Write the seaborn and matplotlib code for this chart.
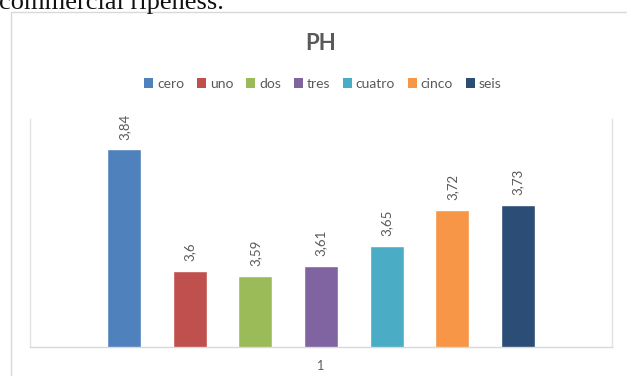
import matplotlib
matplotlib.use("Agg")
import matplotlib.pyplot as plt
from matplotlib.patches import Rectangle, Patch
import seaborn as sns
import pandas as pd

# Series and values
series = ["cero", "uno", "dos", "tres", "cuatro", "cinco", "seis"]
ph_values = [3.84, 3.60, 3.59, 3.61, 3.65, 3.72, 3.73]
category = ["1"] * len(series)
colors = ["#4F81BD", "#C0504D", "#9BBB59", "#8064A2", "#4BACC6", "#F79646", "#2C4D75"]

df = pd.DataFrame({"grupo": category, "serie": series, "ph": ph_values})

sns.set_theme(style="white")
plt.rcParams["font.family"] = ["Lato", "DejaVu Sans"]
text_gray = "#595959"
line_gray = "#e3e3e3"

W, H = 627, 376
fig = plt.figure(figsize=(W / 100, H / 100), dpi=100)

# chart frame
fig.patches.append(Rectangle((11 / W, -0.05), 1.0, 1 - 12 / H + 0.05,
                             transform=fig.transFigure, fill=False,
                             edgecolor="#d9d9d9", linewidth=1.0))

# caption line running above the chart
fig.text(-0.001, 1 - 9 / H, "commercial ripeness.", family=["Liberation Serif", "DejaVu Serif"],
         fontsize=19, color="#111111", va="baseline", ha="left")

ax = fig.add_axes([30 / W, (H - 347) / H, (612 - 30) / W, (347 - 119) / H])
sns.barplot(data=df, x="grupo", y="ph", hue="serie", hue_order=series,
            palette=colors, width=0.789, gap=0.48, dodge=True,
            saturation=1.0, legend=False, ax=ax, errorbar=None)

ax.set_ylim(3.45, 3.90)
ax.set_xlim(-0.5, 0.5)

for cont, v in zip(ax.containers, ph_values):
    ax.bar_label(cont, labels=[f"{v:g}".replace(".", ",")], rotation=90,
                 padding=7, fontsize=9.5, color=text_gray)

ax.set_xlabel("")
ax.set_ylabel("")
ax.set_yticks([])
ax.tick_params(axis="x", length=0, pad=9, labelsize=9, labelcolor=text_gray)
for side in ["left", "right", "bottom"]:
    ax.spines[side].set_visible(True)
    ax.spines[side].set_color(line_gray)
    ax.spines[side].set_linewidth(1.0)
ax.spines["top"].set_visible(False)
ax.spines["bottom"].set_color("#d9d9d9")

fig.text(321 / W, 1 - 44 / H, "PH", ha="center", va="center", fontsize=16,
         fontweight="bold", color=text_gray)

handles = [Patch(facecolor=c, edgecolor="none") for c in colors]
fig.legend(handles, series, loc="center", bbox_to_anchor=(323 / W, 1 - 84 / H),
           ncol=7, frameon=False, fontsize=10, labelcolor=text_gray,
           handlelength=0.65, handleheight=0.65, handletextpad=0.25,
           columnspacing=0.95, borderpad=0)

fig.savefig("out.png", dpi=100)
